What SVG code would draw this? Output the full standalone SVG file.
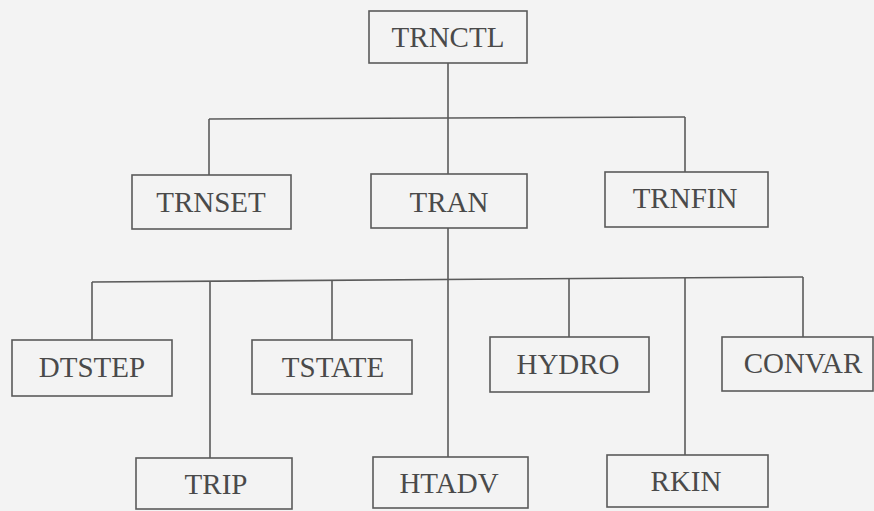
<svg xmlns="http://www.w3.org/2000/svg" width="874" height="511" viewBox="0 0 874 511">
<style>
.box{fill:none;stroke:#5a5a5a;stroke-width:1.6}
.lbl{font-family:"Liberation Serif","Times New Roman",serif;font-size:29px;fill:#4a4a4a;text-anchor:middle}
.con{fill:none;stroke:#5a5a5a;stroke-width:1.6}
</style>
<rect width="874" height="511" fill="#f3f3f3"/>
<g id="connectors">
<line class="con" x1="448" y1="63" x2="448" y2="118"/>
<line class="con" x1="209" y1="119" x2="685" y2="117"/>
<line class="con" x1="209" y1="119" x2="209" y2="175"/>
<line class="con" x1="448" y1="118" x2="448" y2="174"/>
<line class="con" x1="685" y1="117" x2="685" y2="172"/>
<line class="con" x1="448" y1="228" x2="448" y2="457"/>
<line class="con" x1="92" y1="282" x2="803" y2="277"/>
<line class="con" x1="92" y1="282" x2="92" y2="340"/>
<line class="con" x1="210" y1="281" x2="210" y2="458"/>
<line class="con" x1="332" y1="280" x2="332" y2="340"/>
<line class="con" x1="569" y1="279" x2="569" y2="337"/>
<line class="con" x1="685" y1="278" x2="685" y2="455"/>
<line class="con" x1="803" y1="277" x2="803" y2="337"/>
</g>
<g id="TRNCTL"><rect class="box" x="369" y="11" width="158" height="52"/><text class="lbl" x="448" y="47">TRNCTL</text></g>
<g id="TRNSET"><rect class="box" x="132" y="175" width="159" height="54"/><text class="lbl" x="211" y="212">TRNSET</text></g>
<g id="TRAN"><rect class="box" x="371" y="174" width="156" height="54"/><text class="lbl" x="449" y="212">TRAN</text></g>
<g id="TRNFIN"><rect class="box" x="605" y="172" width="163" height="55"/><text class="lbl" x="685" y="208">TRNFIN</text></g>
<g id="DTSTEP"><rect class="box" x="12" y="340" width="160" height="56"/><text class="lbl" x="92" y="377">DTSTEP</text></g>
<g id="TSTATE"><rect class="box" x="252" y="340" width="160" height="54"/><text class="lbl" x="333" y="377">TSTATE</text></g>
<g id="HYDRO"><rect class="box" x="490" y="337" width="159" height="55"/><text class="lbl" x="568" y="374">HYDRO</text></g>
<g id="CONVAR"><rect class="box" x="722" y="337" width="151" height="54"/><text class="lbl" x="803" y="373">CONVAR</text></g>
<g id="TRIP"><rect class="box" x="136" y="458" width="156" height="51"/><text class="lbl" x="216" y="494">TRIP</text></g>
<g id="HTADV"><rect class="box" x="373" y="457" width="155" height="51"/><text class="lbl" x="449" y="493">HTADV</text></g>
<g id="RKIN"><rect class="box" x="607" y="455" width="161" height="52"/><text class="lbl" x="686" y="491">RKIN</text></g>
</svg>
